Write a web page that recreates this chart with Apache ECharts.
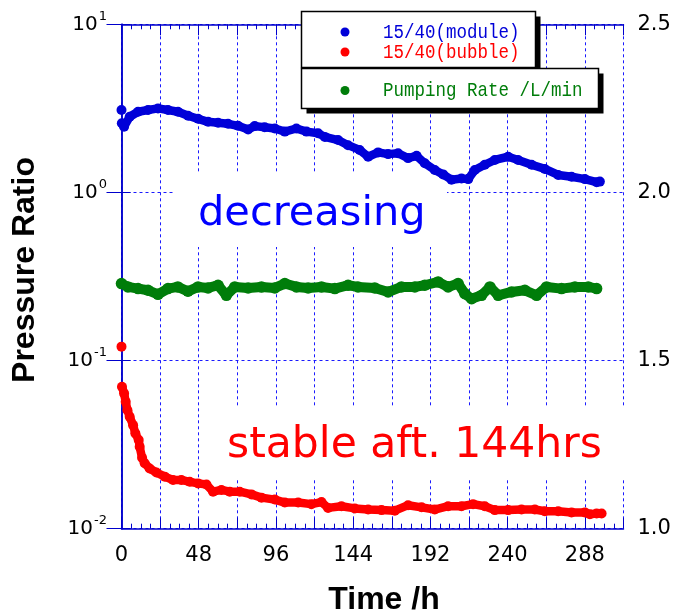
<!DOCTYPE html>
<html>
<head>
<meta charset="utf-8">
<script src="https://cdn.jsdelivr.net/npm/echarts@6/dist/echarts.min.js"></script>
<style>html,body{margin:0;padding:0;background:#fff}#c{width:677px;height:615px}</style>
</head>
<body>
<div id="c"></div>
<script>
// ---- data ----
const xTicks = [0, 48, 96, 144, 192, 240, 288];
const rightTicks = [1.0, 1.5, 2.0, 2.5];
const leftTicks = [0.01, 0.1, 1, 10];

// 15/40 (module) : first isolated point, then the main trace
const moduleFirst = [0, 3.09];
const moduleT = [0.2,1.6,5.1,10.3,16.5,22.7,28.9,35.1,41.4,47.6,53.8,60,66.2,72.4,78.7,82.8,89,95.3,101.5,108.7,115,122.2,126.4,134.6,140.8,148,153.3,159.5,165.7,171.9,178.1,183.4,188.5,194.7,199.9,205.1,211.3,215.5,219.6,225.8,232,240.3,246.5,254.9,263.1,271.4,279.7,288,295.3,297.3];
const moduleV = [2.58,2.46,2.82,3.02,3.09,3.16,3.09,3.02,2.86,2.74,2.63,2.60,2.56,2.49,2.37,2.48,2.44,2.40,2.30,2.40,2.30,2.25,2.14,2.05,1.91,1.79,1.63,1.73,1.69,1.71,1.60,1.65,1.49,1.36,1.28,1.19,1.21,1.20,1.36,1.46,1.56,1.63,1.56,1.46,1.38,1.27,1.24,1.20,1.15,1.16];

// 15/40 (bubble)
const bubbleFirst = [0, 0.121];
const bubbleT = [0.3,1.6,2.6,3.7,5.1,7.2,8.6,10.7,11.3,12.8,14.4,17.5,21.7,26.9,32,37.2,42.4,47.6,52.8,56.9,62.1,67.3,73.5,80.8,87,95.3,101.5,109.8,118,124.3,128.4,136.7,145,153.3,161.6,169.9,178.1,186.5,194.7,203,211.3,218.5,225.8,232,240.3,248.6,256.9,263.1,271.4,279.7,288,291.1,295.3,298.4];
const bubbleV = [0.0698,0.0638,0.0569,0.0507,0.0463,0.0413,0.0369,0.0337,0.0307,0.0264,0.0245,0.0228,0.0216,0.0204,0.0195,0.0195,0.0190,0.0186,0.0183,0.0166,0.0170,0.0166,0.0166,0.0160,0.0153,0.0149,0.0143,0.0143,0.0140,0.0144,0.0133,0.0136,0.0132,0.0130,0.0129,0.0128,0.0138,0.0134,0.0130,0.0136,0.0136,0.0140,0.0136,0.0129,0.0129,0.0130,0.0130,0.0127,0.0127,0.0125,0.0125,0.0122,0.0123,0.0123];

// Pumping Rate /L/min (right axis)
const pumpT = [0,4,10.3,16.5,22.7,28.9,35,41.3,47.6,53.8,60,65.2,70.4,78.7,87,95.3,101.5,108.7,116,124.3,132.6,140.8,147,157.4,165.7,174,182.3,188.5,196.8,203,209.2,213.4,217.6,223.8,229,234.1,242.4,250.7,258,264.2,273.5,281.8,290.1,295.3];
const pumpV = [1.729,1.719,1.714,1.709,1.697,1.714,1.719,1.706,1.719,1.716,1.724,1.694,1.719,1.716,1.719,1.716,1.729,1.719,1.716,1.719,1.714,1.724,1.719,1.716,1.704,1.719,1.719,1.724,1.734,1.719,1.729,1.699,1.684,1.694,1.719,1.694,1.704,1.709,1.694,1.719,1.714,1.719,1.719,1.714];

const zip = (a, b) => a.map((t, i) => [t, b[i]]);

const BLUE = '#0000d8', RED = '#ff0000', GREEN = '#007d0a', AX = '#0000cc';
const FONT = 'DejaVu Sans';

const chart = echarts.init(document.getElementById('c'), null, {renderer: 'canvas'});

function xAxisCfg(pos, labels) {
  return {
    type: 'value', min: 0, max: 312, interval: 24, position: pos,
    axisLine: {show: true, onZero: false, lineStyle: {color: AX, width: 1.5}},
    axisTick: {show: true, inside: true, length: 11, lineStyle: {color: AX, width: 1}},
    minorTick: {show: true, splitNumber: 4, length: 5, lineStyle: {color: AX, width: 1}},
    axisLabel: {show: labels, margin: 16, fontSize: 21, fontFamily: FONT, color: '#000',
      formatter: v => (xTicks.indexOf(v) >= 0 ? String(v) : '')},
    splitLine: {show: labels, lineStyle: {color: '#1a1aff', type: [3, 3], width: 1}}
  };
}

const lineSeries = (name, data, color, yIdx, w) => ({
  name, type: 'line', xAxisIndex: 0, yAxisIndex: yIdx, data, clip: false,
  symbol: 'circle', symbolSize: w + 1.5, showSymbol: true, showAllSymbol: true,
  lineStyle: {color, width: w, cap: 'round', join: 'round'},
  itemStyle: {color, opacity: 1}, z: 3, silent: true
});
const dotSeries = (name, pt, color, yIdx) => ({
  name, type: 'scatter', xAxisIndex: 0, yAxisIndex: yIdx, data: [pt], clip: false,
  symbol: 'circle', symbolSize: 10, itemStyle: {color, opacity: 1}, z: 4, silent: true
});

const legendText = (text, color, y) => ({
  type: 'text', z: 34, x: 383, y, scaleY: 1.2,
  style: {text, fill: color, fontSize: 17.5, fontFamily: 'Liberation Mono', textAlign: 'left', textVerticalAlign: 'middle'}
});

const baseGraphic = [
  // white backgrounds behind annotation texts (cover grid, under data)
  {type: 'rect', z: 1, shape: {x: 175, y: 173, width: 272, height: 74}, style: {fill: '#fff'}},
  {type: 'rect', z: 1, shape: {x: 215, y: 407, width: 415, height: 72}, style: {fill: '#fff'}},
  // annotation texts
  {type: 'text', z: 20, x: 198, y: 213.8, style: {text: 'decreasing', fill: '#0000ff', fontSize: 41.5, fontFamily: FONT, textAlign: 'left', textVerticalAlign: 'middle'}},
  {type: 'text', z: 20, x: 227, y: 445.8, style: {text: 'stable aft. 144hrs', fill: RED, fontSize: 42.5, fontFamily: FONT, textAlign: 'left', textVerticalAlign: 'middle'}},
  // legend box 1 with shadow
  {type: 'rect', z: 30, shape: {x: 306.5, y: 16.5, width: 234, height: 56}, style: {fill: '#000'}},
  {type: 'rect', z: 31, shape: {x: 301.5, y: 11.5, width: 234, height: 56}, style: {fill: '#fff', stroke: '#000', lineWidth: 1.5}},
  // legend box 2 with shadow
  {type: 'rect', z: 32, shape: {x: 306.5, y: 73.5, width: 297, height: 40}, style: {fill: '#000'}},
  {type: 'rect', z: 33, shape: {x: 301.5, y: 68.5, width: 297, height: 40}, style: {fill: '#fff', stroke: '#000', lineWidth: 1.5}},
  // legend markers
  {type: 'circle', z: 34, shape: {cx: 345, cy: 32, r: 4.5}, style: {fill: BLUE}},
  {type: 'circle', z: 34, shape: {cx: 345, cy: 52, r: 4.5}, style: {fill: RED}},
  {type: 'circle', z: 34, shape: {cx: 345, cy: 90.5, r: 4.5}, style: {fill: GREEN}},
  // legend texts
  legendText('15/40(module)', BLUE, 32),
  legendText('15/40(bubble)', RED, 52),
  legendText('Pumping Rate /L/min', GREEN, 90.5),
  // axis titles
  {type: 'text', z: 20, x: 384, y: 600.6, style: {text: 'Time /h', fill: '#000', fontSize: 32, fontWeight: 'bold', fontFamily: 'Liberation Sans', textAlign: 'center', textVerticalAlign: 'middle'}},
  {type: 'text', z: 20, x: 25, y: 270, rotation: Math.PI / 2, style: {text: 'Pressure Ratio', fill: '#000', fontSize: 32, fontWeight: 'bold', fontFamily: 'Liberation Sans', textAlign: 'center', textVerticalAlign: 'middle'}}
];

const option = {
  animation: false,
  backgroundColor: '#fff',
  grid: {left: 121.5, right: 53.5, top: 24.3, bottom: 86.3, containLabel: false},
  xAxis: [xAxisCfg('bottom', true), xAxisCfg('top', false)],
  yAxis: [
    {
      type: 'log', logBase: 10, min: 0.01, max: 10, position: 'left',
      axisLine: {show: true, lineStyle: {color: AX, width: 1.5}},
      axisTick: {show: true, inside: true, length: 9, lineStyle: {color: AX}},
      minorTick: {show: false},
      axisLabel: {show: false},
      splitLine: {show: true, lineStyle: {color: '#1a1aff', type: [3, 3], width: 1}}
    },
    {
      type: 'value', min: 1.0, max: 2.5, interval: 0.5, position: 'right',
      axisLine: {show: true, lineStyle: {color: AX, width: 1.5}},
      axisTick: {show: true, inside: true, length: 15, lineStyle: {color: AX}},
      axisLabel: {margin: 14, fontSize: 21, fontFamily: FONT, color: '#000',
        formatter: v => (rightTicks.indexOf(v) >= 0 ? v.toFixed(1) : '')},
      splitLine: {show: false}
    }
  ],
  series: [
    lineSeries('15/40(module)', zip(moduleT, moduleV), BLUE, 0, 8.5),
    dotSeries('15/40(module) start', moduleFirst, BLUE, 0),
    lineSeries('15/40(bubble)', zip(bubbleT, bubbleV), RED, 0, 8.5),
    dotSeries('15/40(bubble) start', bubbleFirst, RED, 0),
    lineSeries('Pumping Rate /L/min', zip(pumpT, pumpV), GREEN, 1, 10)
  ],
  graphic: baseGraphic
};
chart.setOption(option);

// power-of-ten tick labels on the log axis, positioned through the axis scale
const meas = document.createElement('canvas').getContext('2d');
meas.font = '13px "DejaVu Sans"';
const labelRight = 107;
const tickLabels = [];
leftTicks.forEach(v => {
  const y = chart.convertToPixel({yAxisIndex: 0}, v);
  const e = String(Math.round(Math.log10(v)));
  const w = meas.measureText(e).width;
  tickLabels.push({type: 'text', z: 20, x: labelRight, y: y - 8, style: {text: e, fill: '#000', fontSize: 13, fontFamily: FONT, textAlign: 'right', textVerticalAlign: 'middle'}});
  tickLabels.push({type: 'text', z: 20, x: labelRight - w - 1, y: y + 0.5, style: {text: '10', fill: '#000', fontSize: 20, fontFamily: FONT, textAlign: 'right', textVerticalAlign: 'middle'}});
});
chart.setOption({graphic: baseGraphic.concat(tickLabels)});
</script>
</body>
</html>
